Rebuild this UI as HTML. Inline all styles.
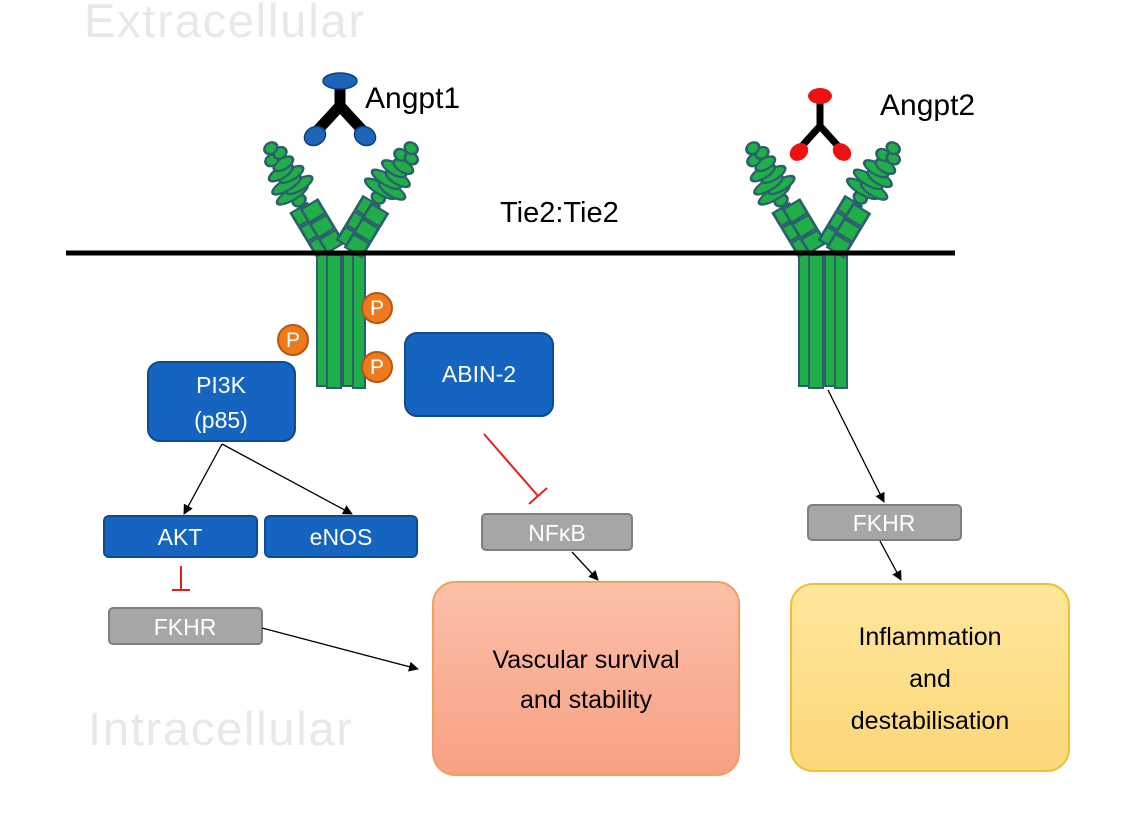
<!DOCTYPE html>
<html><head><meta charset="utf-8"><style>
html,body{margin:0;padding:0;background:#fff}
svg{display:block}
text{font-family:"Liberation Sans",sans-serif}
</style></head><body>
<svg width="1135" height="824" viewBox="0 0 1135 824" xmlns="http://www.w3.org/2000/svg">
<defs>
<linearGradient id="g1" x1="0" y1="0" x2="0" y2="1"><stop offset="0" stop-color="#fbc0a8"/><stop offset="1" stop-color="#f7a084"/></linearGradient>
<linearGradient id="g2" x1="0" y1="0" x2="0" y2="1"><stop offset="0" stop-color="#fee79c"/><stop offset="1" stop-color="#fdd77a"/></linearGradient>
<marker id="ar" markerWidth="10" markerHeight="10" refX="9" refY="5" orient="auto" markerUnits="userSpaceOnUse"><path d="M0,0 L10,5 L0,10 z" fill="#000"/></marker>
<g id="arm">
  <rect x="-12" y="-16" width="14" height="14" fill="#1fae48" stroke="#2b5f6e" stroke-width="2"/>
  <rect x="-4" y="-14" width="14" height="14" fill="#1fae48" stroke="#2b5f6e" stroke-width="2"/>
  <rect x="-12" y="-32" width="14" height="14" fill="#1fae48" stroke="#2b5f6e" stroke-width="2"/>
  <rect x="-4" y="-30" width="14" height="14" fill="#1fae48" stroke="#2b5f6e" stroke-width="2"/>
  <rect x="-12" y="-48" width="14" height="14" fill="#1fae48" stroke="#2b5f6e" stroke-width="2"/>
  <rect x="-4" y="-46" width="14" height="14" fill="#1fae48" stroke="#2b5f6e" stroke-width="2"/>
  <circle cx="-2" cy="-54" r="5" fill="#1fae48" stroke="#2b5f6e" stroke-width="2"/>
  <ellipse cx="-4" cy="-62" rx="13" ry="5" fill="#1fae48" stroke="#2b5f6e" stroke-width="2"/>
  <ellipse cx="4" cy="-66" rx="11" ry="5" fill="#1fae48" stroke="#2b5f6e" stroke-width="2"/>
  <ellipse cx="-4" cy="-72" rx="12" ry="5" fill="#1fae48" stroke="#2b5f6e" stroke-width="2"/>
  <ellipse cx="3" cy="-78" rx="10" ry="5" fill="#1fae48" stroke="#2b5f6e" stroke-width="2"/>
  <ellipse cx="-3" cy="-84" rx="10" ry="5" fill="#1fae48" stroke="#2b5f6e" stroke-width="2"/>
  <ellipse cx="2" cy="-90" rx="8" ry="5" fill="#1fae48" stroke="#2b5f6e" stroke-width="2"/>
  <circle cx="-4" cy="-98" r="5" fill="#1fae48" stroke="#2b5f6e" stroke-width="2"/>
  <circle cx="4" cy="-100" r="5" fill="#1fae48" stroke="#2b5f6e" stroke-width="2"/>
  <circle cx="0" cy="-108" r="5" fill="#1fae48" stroke="#2b5f6e" stroke-width="2"/>
</g>
<g id="trunk">
  <rect x="0" y="0" width="12" height="133" fill="#1fae48" stroke="#2b5f6e" stroke-width="2"/>
  <rect x="10" y="2" width="14" height="133" fill="#1fae48" stroke="#2b5f6e" stroke-width="2"/>
  <rect x="26" y="0" width="12" height="133" fill="#1fae48" stroke="#2b5f6e" stroke-width="2"/>
  <rect x="36" y="2" width="12" height="133" fill="#1fae48" stroke="#2b5f6e" stroke-width="2"/>
</g>
</defs>

<text x="84" y="37" font-size="47" fill="#e8e8e8" textLength="280">Extracellular</text>
<text x="88" y="745" font-size="47" fill="#e8e8e8" textLength="264">Intracellular</text>

<!-- receptor 1 -->
<use href="#trunk" x="317" y="253"/>
<use href="#arm" transform="translate(332,250) rotate(-31) scale(1.35,1.1)"/>
<use href="#arm" transform="translate(350,250) rotate(31) scale(1.35,1.1)"/>
<!-- receptor 2 -->
<use href="#trunk" x="799" y="253"/>
<use href="#arm" transform="translate(814,250) rotate(-31) scale(1.35,1.1)"/>
<use href="#arm" transform="translate(832,250) rotate(31) scale(1.35,1.1)"/>

<line x1="66" y1="253" x2="955" y2="253" stroke="#000" stroke-width="5"/>

<!-- Angpt1 -->
<path d="M340,84 L340,108 M340,106 L316,132 M340,106 L364,132" stroke="#000" stroke-width="11" fill="none"/>
<ellipse cx="340" cy="81" rx="17" ry="8" fill="#1e64b8" stroke="#0d3f80" stroke-width="1.5"/>
<ellipse cx="315" cy="136" rx="11" ry="9" fill="#1e64b8" stroke="#0d3f80" stroke-width="1.5" transform="rotate(-30 315 136)"/>
<ellipse cx="365" cy="136" rx="11" ry="9" fill="#1e64b8" stroke="#0d3f80" stroke-width="1.5" transform="rotate(30 365 136)"/>
<text x="365" y="108" font-size="30" fill="#000">Angpt1</text>
<!-- Angpt2 -->
<path d="M820,100 L820,128 M820,126 L802,146 M820,126 L838,146" stroke="#000" stroke-width="7" fill="none"/>
<ellipse cx="820" cy="96" rx="12" ry="8" fill="#ee1111"/>
<ellipse cx="799" cy="152" rx="10" ry="8" fill="#ee1111" transform="rotate(-40 799 152)"/>
<ellipse cx="842" cy="152" rx="10" ry="8" fill="#ee1111" transform="rotate(40 842 152)"/>
<text x="880" y="115" font-size="30" fill="#000">Angpt2</text>

<text x="500" y="222" font-size="29" fill="#000">Tie2:Tie2</text>

<!-- P circles -->
<g font-size="21" fill="#fff" text-anchor="middle">
<circle cx="293" cy="340" r="15" fill="#ee7a1e" stroke="#b85510" stroke-width="2"/><text x="293" y="347">P</text>
<circle cx="377" cy="308" r="15" fill="#ee7a1e" stroke="#b85510" stroke-width="2"/><text x="377" y="315">P</text>
<circle cx="377" cy="367" r="15" fill="#ee7a1e" stroke="#b85510" stroke-width="2"/><text x="377" y="374">P</text>
</g>

<!-- blue boxes -->
<g fill="#1565c0" stroke="#0d4a96" stroke-width="2">
<rect x="148" y="362" width="147" height="79" rx="12"/>
<rect x="405" y="333" width="148" height="83" rx="12"/>
<rect x="104" y="516" width="153" height="41" rx="5"/>
<rect x="265" y="516" width="152" height="41" rx="5"/>
</g>
<g fill="#fff" font-size="23" text-anchor="middle">
<text x="221" y="393">PI3K</text><text x="221" y="428">(p85)</text>
<text x="479" y="382">ABIN-2</text>
<text x="180" y="545">AKT</text>
<text x="341" y="545">eNOS</text>
</g>

<!-- gray boxes -->
<g fill="#a6a6a6" stroke="#7f7f7f" stroke-width="2">
<rect x="482" y="514" width="150" height="36" rx="4"/>
<rect x="808" y="505" width="153" height="35" rx="4"/>
<rect x="109" y="608" width="153" height="36" rx="4"/>
</g>
<g fill="#fff" font-size="23" text-anchor="middle">
<text x="557" y="541">NFκB</text>
<text x="884" y="531">FKHR</text>
<text x="185" y="635">FKHR</text>
</g>

<!-- outcome boxes -->
<rect x="433" y="582" width="306" height="193" rx="22" fill="url(#g1)" stroke="#f2a060" stroke-width="2"/>
<text x="586" y="668" font-size="25" text-anchor="middle">Vascular survival</text>
<text x="586" y="708" font-size="25" text-anchor="middle">and stability</text>
<rect x="791" y="584" width="278" height="187" rx="22" fill="url(#g2)" stroke="#efc030" stroke-width="2"/>
<text x="930" y="645" font-size="25" text-anchor="middle">Inflammation</text>
<text x="930" y="687" font-size="25" text-anchor="middle">and</text>
<text x="930" y="729" font-size="25" text-anchor="middle">destabilisation</text>

<!-- arrows -->
<g stroke="#000" stroke-width="1.3" fill="none" marker-end="url(#ar)">
<line x1="222" y1="444" x2="184" y2="514"/>
<line x1="222" y1="444" x2="352" y2="514"/>
<line x1="572" y1="552" x2="598" y2="580"/>
<line x1="262" y1="628" x2="418" y2="669"/>
<line x1="828" y1="390" x2="884" y2="502"/>
<line x1="880" y1="541" x2="901" y2="580"/>
</g>
<!-- inhibitions -->
<g stroke="#e02020" stroke-width="2" fill="none">
<line x1="181" y1="566" x2="181" y2="590"/><line x1="172" y1="590" x2="190" y2="590"/>
<line x1="484" y1="434" x2="538" y2="496"/><line x1="529" y1="504" x2="547" y2="488"/>
</g>
</svg>
</body></html>
